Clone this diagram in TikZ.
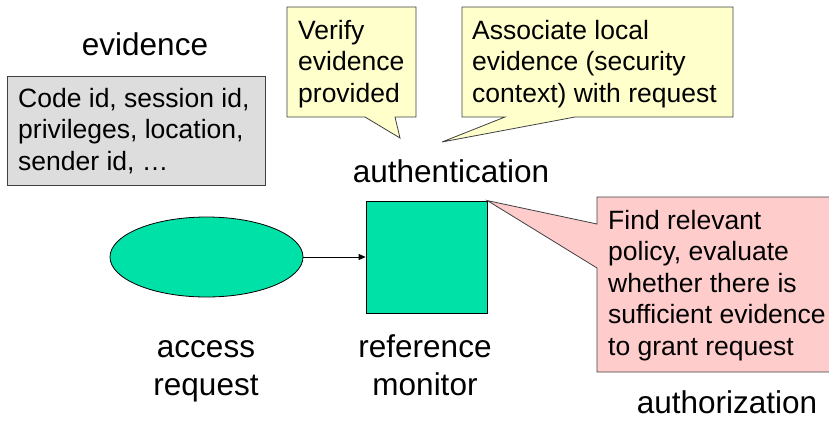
\documentclass[tikz,border=0pt]{standalone}
\usepackage{fontspec}
\setmainfont{Liberation Sans}
\usetikzlibrary{arrows.meta,shapes.geometric}
\definecolor{tealgreen}{HTML}{00E1A8}
\definecolor{noteyellow}{HTML}{FFFFCC}
\definecolor{notepink}{HTML}{FFCCCC}
\definecolor{notegray}{HTML}{DDDDDD}
\begin{document}
\begin{tikzpicture}[x=1pt,y=-1pt,
  lbl/.style={font=\fontsize{31.5}{38}\selectfont, inner sep=0pt, align=center, anchor=base},
  note/.style={font=\fontsize{26.5}{31.5}\selectfont, inner sep=0pt, align=left, anchor=base west},
  bubble/.style={draw=black!75, line width=0.8pt},
  greenshape/.style={draw=black, line width=0.8pt, fill=tealgreen, inner sep=0pt}]
\useasboundingbox (0,0) rectangle (829,421);

% labels (anchor = baseline of the last line)
\node[lbl] (evl) at (145,55) {evidence};
\node[lbl] (authn) at (451,182) {authentication};
\node[lbl] (acc) at (206,395) {access\\request};
\node[lbl] (refm) at (425,395) {reference\\monitor};
\node[lbl] (authz) at (727,413) {authorization};

% gray evidence box
\draw[bubble, fill=notegray] (7,76) rectangle (265,185);
\node[note] (evtxt) at (18,170) {Code id, session id,\\privileges, location,\\sender id, …};

% yellow callout 1
\draw[bubble, fill=noteyellow] (287,7) -- (416,7) -- (416,117) -- (395,117) -- (400,138) -- (365,117) -- (287,117) -- cycle;
\node[note] (ver) at (298,102) {Verify\\evidence\\provided};

% yellow callout 2
\draw[bubble, fill=noteyellow] (462,7) -- (733,7) -- (733,117) -- (575,117) -- (442,142) -- (505,117) -- (462,117) -- cycle;
\node[note] (assoc) at (472,102) {Associate local\\evidence (security\\context) with request};

% main shapes
\node[greenshape, ellipse, minimum width=193pt, minimum height=80pt] (req) at (206.5,257) {};
\node[greenshape, rectangle, minimum width=121pt, minimum height=112pt] (mon) at (426.5,257) {};
\draw[line width=0.8pt, -{Triangle[length=7pt,width=6pt]}] (req) -- (mon);

% pink callout
\draw[bubble, fill=notepink] (597,197) -- (832,197) -- (832,372) -- (597,372) -- (597,268) -- (mon.north east) -- (597,224) -- cycle;
\node[note] (pol) at (608,355) {Find relevant\\policy, evaluate\\whether there is\\sufficient evidence\\to grant request};
\end{tikzpicture}
\end{document}
